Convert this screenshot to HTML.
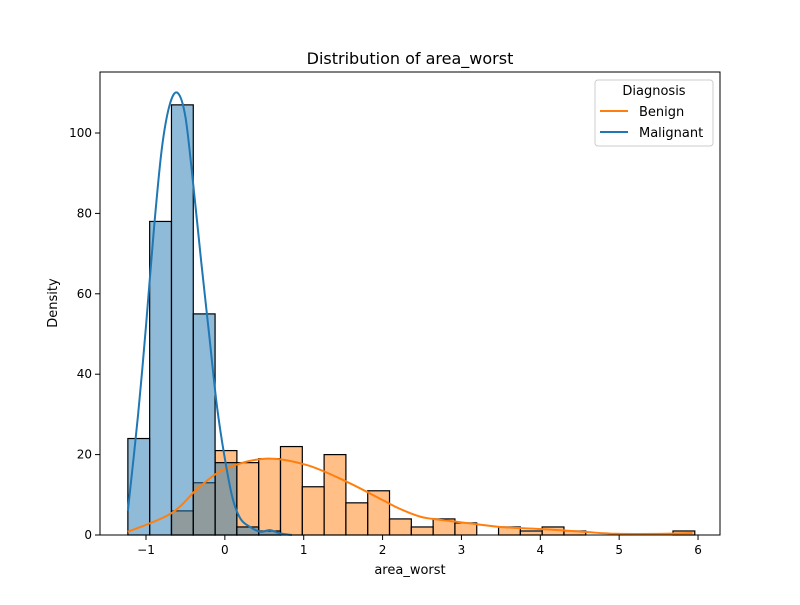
<!DOCTYPE html>
<html><head><meta charset="utf-8"><style>
body{margin:0;background:#fff;font-family:"Liberation Sans","DejaVu Sans",sans-serif;}
svg text{font-family:"DejaVu Sans","Liberation Sans",sans-serif;}
</style></head><body>
<svg id="chart" width="800" height="600" xmlns="http://www.w3.org/2000/svg">
<rect width="800" height="600" fill="#fff"/>
<g id="bars"></g><g id="lines"></g><g id="axes"></g>
<text x="410" y="64" font-size="16" text-anchor="middle">Distribution of area_worst</text>
<text x="410" y="574" font-size="13" text-anchor="middle">area_worst</text>
<text x="57" y="303" font-size="13" text-anchor="middle" transform="rotate(-90 57 303)">Density</text>
<g>
<rect x="595" y="80" width="118" height="66" rx="3" fill="#fff" fill-opacity="0.8" stroke="#ccc"/>
<text x="654" y="95" font-size="13" text-anchor="middle">Diagnosis</text>
<line x1="600" y1="111" x2="628" y2="111" stroke="#ff7f0e" stroke-width="2"/>
<text x="639" y="116" font-size="13">Benign</text>
<line x1="600" y1="132" x2="628" y2="132" stroke="#1f77b4" stroke-width="2"/>
<text x="639" y="137" font-size="13">Malignant</text>
</g>
</svg>
<script>
const binStart = -1.23;
const binWidth = 0.2765;
const benignCounts = [0,0,6,13,21,18,19,22,12,20,8,11,4,2,4,3,0,2,1,2,1,0,0,0,0,1];
const malignantCounts = [24,78,107,55,18,2,1,0,0,0,0,0,0,0,0,0,0,0,0,0,0,0,0,0,0,0];
const benignKdeX = [-1.23,-0.68,-0.32,0.02,0.53,1.04,1.54,2.0,2.22,2.47,2.64,3.06,3.49,3.99,4.54,4.97,5.6,5.93];
const benignKdeY = [0.8,5.4,12,16.6,19,17.4,13.3,8.7,6.5,4.6,4,3,2,1.5,0.8,0.3,0.3,0.5];
const malKdeX = [-1.23,-1.1,-1.0,-0.9,-0.8,-0.7,-0.6,-0.5,-0.4,-0.3,-0.2,-0.1,0,0.1,0.2,0.32,0.45,0.57,0.7,0.85];
const malKdeY = [6,30,52,76,96,107,110,104,87,68,50,32,19,9,4,2,0.8,1.2,0.4,0];
const xTicks = [-1,0,1,2,3,4,5,6];
const yTicks = [0,20,40,60,80,100];
const NS="http://www.w3.org/2000/svg";
const X0=100,X1=720,Y0=72,Y1=535;
const xs=v=>146+(v+1)*78.86;
const ys=v=>535-v*4.02;
function mk(t,a,p){const e=document.createElementNS(NS,t);for(const k in a)e.setAttribute(k,a[k]);p.appendChild(e);return e;}
const bars=document.getElementById('bars');
function drawBars(counts,color,name){
 counts.forEach((c,i)=>{ if(c<=0)return;
  const x=xs(binStart+i*binWidth), w=xs(binStart+(i+1)*binWidth)-x;
  const r=mk('rect',{x:x,y:ys(c),width:w,height:ys(0)-ys(c),fill:color,'fill-opacity':0.5,stroke:'#000','stroke-width':1.2},bars);
  
  
 });
}
drawBars(benignCounts,'#ff7f0e','benign');
drawBars(malignantCounts,'#1f77b4','malignant');
const lines=document.getElementById('lines');
function drawLine(xa,ya,color,name){
 const pts=xa.map((x,i)=>[xs(x),ys(ya[i])]);
 let d='M'+pts[0][0]+','+pts[0][1];
 for(let i=0;i<pts.length-1;i++){
  const p0=pts[i-1]||pts[i],p1=pts[i],p2=pts[i+1],p3=pts[i+2]||p2;
  d+=' C'+(p1[0]+(p2[0]-p0[0])/6)+','+(p1[1]+(p2[1]-p0[1])/6)+' '+(p2[0]-(p3[0]-p1[0])/6)+','+(p2[1]-(p3[1]-p1[1])/6)+' '+p2[0]+','+p2[1];
 }
 const p=mk('path',{d:d,fill:'none',stroke:color,'stroke-width':2},lines);
 
 
}
drawLine(benignKdeX,benignKdeY,'#ff7f0e','benign');
drawLine(malKdeX,malKdeY,'#1f77b4','malignant');
const ax=document.getElementById('axes');
const fr=mk('rect',{x:X0,y:Y0,width:X1-X0,height:Y1-Y0,fill:'none',stroke:'#000','stroke-width':1},ax);


xTicks.forEach(t=>{const x=xs(t);mk('line',{x1:x,y1:Y1,x2:x,y2:Y1+5,stroke:'#000'},ax);
 const tx=mk('text',{x:x,y:Y1+19,'font-size':12,'text-anchor':'middle'},ax);tx.textContent=t<0?'\u2212'+(-t):t;
 
 });
yTicks.forEach(t=>{const y=ys(t);mk('line',{x1:X0-5,y1:y,x2:X0,y2:y,stroke:'#000'},ax);
 const tx=mk('text',{x:X0-8,y:y+4,'font-size':12,'text-anchor':'end'},ax);tx.textContent=t;
 
 });
</script>
</body></html>
